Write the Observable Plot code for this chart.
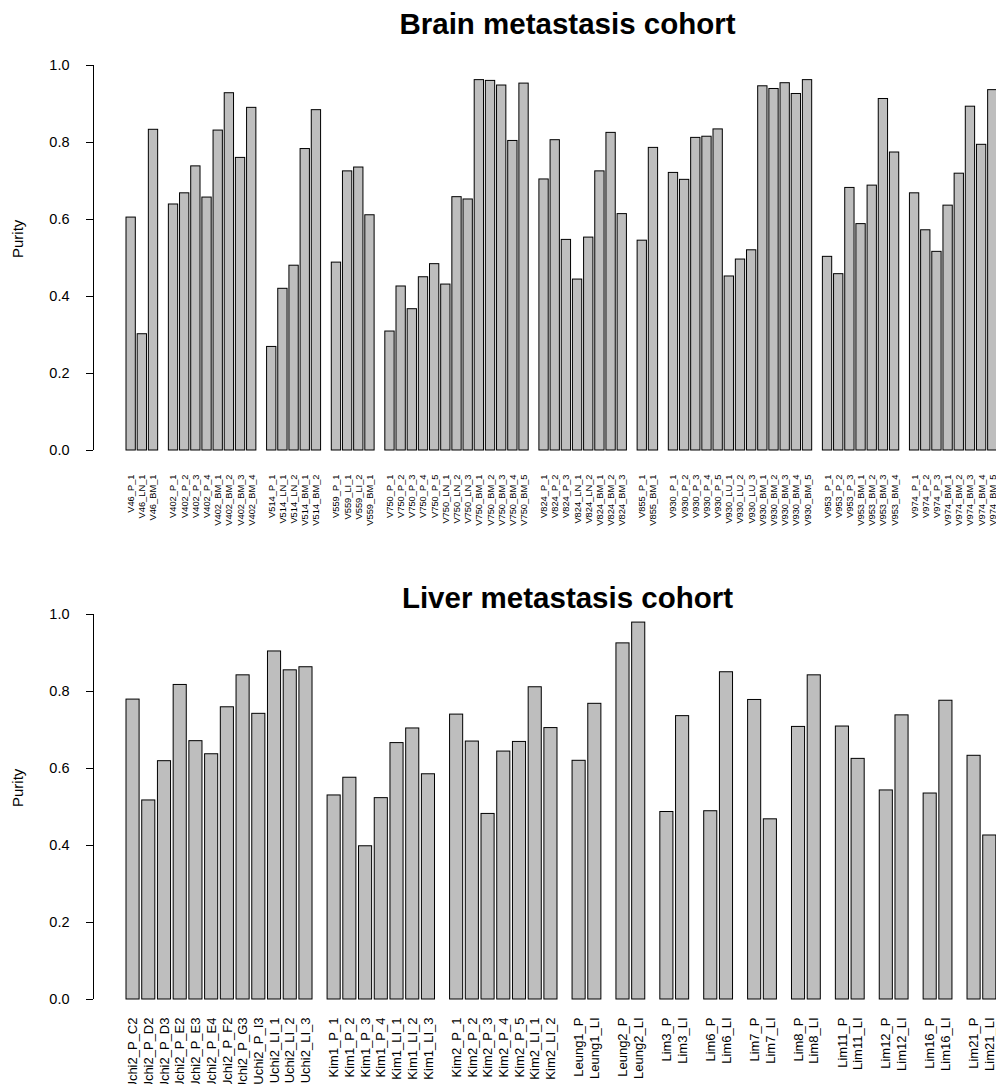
<!DOCTYPE html>
<html>
<head>
<meta charset="utf-8">
<script src="https://cdn.jsdelivr.net/npm/d3@7"></script>
<script src="https://cdn.jsdelivr.net/npm/@observablehq/plot@0.6"></script>
<style>
  html, body { margin: 0; padding: 0; background: #fff; overflow: hidden; }
  #chart svg { display: block; overflow: hidden; }
</style>
</head>
<body>
<div id="chart"></div>
<script>
// Tumour purity per sample, grouped by patient
const brainSamples = [
  "V46_P_1", "V46_LN_1", "V46_BM_1",
  "V402_P_1", "V402_P_2", "V402_P_3", "V402_P_4", "V402_BM_1", "V402_BM_2", "V402_BM_3", "V402_BM_4",
  "V514_P_1", "V514_LN_1", "V514_LN_2", "V514_BM_1", "V514_BM_2",
  "V559_P_1", "V559_LI_1", "V559_LI_2", "V559_BM_1",
  "V750_P_1", "V750_P_2", "V750_P_3", "V750_P_4", "V750_P_5", "V750_LN_1", "V750_LN_2", "V750_LN_3",
  "V750_BM_1", "V750_BM_2", "V750_BM_3", "V750_BM_4", "V750_BM_5",
  "V824_P_1", "V824_P_2", "V824_P_3", "V824_LN_1", "V824_LN_2", "V824_BM_1", "V824_BM_2", "V824_BM_3",
  "V855_P_1", "V855_BM_1",
  "V930_P_1", "V930_P_2", "V930_P_3", "V930_P_4", "V930_P_5", "V930_LU_1", "V930_LU_2", "V930_LU_3",
  "V930_BM_1", "V930_BM_2", "V930_BM_3", "V930_BM_4", "V930_BM_5",
  "V953_P_1", "V953_P_2", "V953_P_3", "V953_BM_1", "V953_BM_2", "V953_BM_3", "V953_BM_4",
  "V974_P_1", "V974_P_2", "V974_P_3", "V974_BM_1", "V974_BM_2", "V974_BM_3", "V974_BM_4", "V974_BM_5"
];
const brainPurity = [
  0.605, 0.302, 0.833,
  0.639, 0.668, 0.738, 0.657, 0.831, 0.928, 0.760, 0.890,
  0.269, 0.420, 0.480, 0.783, 0.884,
  0.488, 0.725, 0.735, 0.611,
  0.309, 0.426, 0.367, 0.450, 0.484, 0.431, 0.658, 0.652,
  0.962, 0.960, 0.948, 0.804, 0.953,
  0.704, 0.806, 0.547, 0.444, 0.553, 0.725, 0.825, 0.614,
  0.545, 0.786,
  0.721, 0.703, 0.812, 0.815, 0.834, 0.452, 0.496, 0.520,
  0.946, 0.939, 0.954, 0.926, 0.962,
  0.503, 0.458, 0.682, 0.588, 0.688, 0.913, 0.774,
  0.668, 0.572, 0.516, 0.636, 0.719, 0.893, 0.794, 0.936
];

const liverSamples = [
  "Uchi2_P_C2", "Uchi2_P_D2", "Uchi2_P_D3", "Uchi2_P_E2", "Uchi2_P_E3", "Uchi2_P_E4",
  "Uchi2_P_F2", "Uchi2_P_G3", "Uchi2_P_I3", "Uchi2_LI_1", "Uchi2_LI_2", "Uchi2_LI_3",
  "Kim1_P_1", "Kim1_P_2", "Kim1_P_3", "Kim1_P_4", "Kim1_LI_1", "Kim1_LI_2", "Kim1_LI_3",
  "Kim2_P_1", "Kim2_P_2", "Kim2_P_3", "Kim2_P_4", "Kim2_P_5", "Kim2_LI_1", "Kim2_LI_2",
  "Leung1_P", "Leung1_LI", "Leung2_P", "Leung2_LI",
  "Lim3_P", "Lim3_LI", "Lim6_P", "Lim6_LI", "Lim7_P", "Lim7_LI", "Lim8_P", "Lim8_LI",
  "Lim11_P", "Lim11_LI", "Lim12_P", "Lim12_LI", "Lim16_P", "Lim16_LI", "Lim21_P", "Lim21_LI"
];
const liverPurity = [
  0.779, 0.517, 0.619, 0.817, 0.671, 0.637,
  0.759, 0.842, 0.742, 0.904, 0.855, 0.863,
  0.530, 0.576, 0.398, 0.523, 0.666, 0.704, 0.585,
  0.740, 0.670, 0.482, 0.644, 0.669, 0.811, 0.705,
  0.620, 0.768, 0.925, 0.979,
  0.487, 0.736, 0.489, 0.850, 0.778, 0.468, 0.708, 0.842,
  0.709, 0.625, 0.543, 0.738, 0.535, 0.776, 0.633, 0.426
];

const yTicks = [0, 0.2, 0.4, 0.6, 0.8, 1.0];
const yLabel = "Purity";
const titles = ["Brain metastasis cohort", "Liver metastasis cohort"];

const FONT = "'Liberation Sans', Arial, Helvetica, sans-serif";

// Bars of one patient sit 1.2 bar-widths apart; a wider gap separates patients.
function layoutBars(samples, values) {
  let left = 0;
  return samples.map((name, i) => {
    const patient = name.split("_")[0];
    if (i > 0) left += patient === samples[i - 1].split("_")[0] ? 1.2 : 2.15;
    return {name, patient, value: values[i], x1: left, x2: left + 1, xc: left + 0.5};
  });
}

function panel({samples, values, title, barPx, height, marginTop, plotHeight, labelGap, labelSize, titleDy}) {
  const bars = layoutBars(samples, values);
  const width = 996, marginLeft = 93, firstBarPx = 126;
  const xDomain = [-(firstBarPx - marginLeft) / barPx, (width - firstBarPx) / barPx];
  return Plot.plot({
    width, height,
    marginLeft, marginRight: 0, marginTop,
    marginBottom: height - marginTop - plotHeight,
    style: {fontFamily: FONT, color: "#000", background: "#fff", overflow: "hidden"},
    x: {domain: xDomain, axis: null},
    y: {domain: [0, 1], axis: null},
    marks: [
      Plot.rect(bars, {x1: "x1", x2: "x2", y1: 0, y2: "value", fill: "#bebebe", stroke: "#000", strokeWidth: 1}),
      Plot.ruleX([xDomain[0]], {y1: 0, y2: 1, stroke: "#000", strokeWidth: 1}),
      Plot.axisY({ticks: yTicks, tickFormat: d3.format(".1f"), tickSize: 7, tickPadding: 17,
        fontSize: 14.5, label: null, stroke: "#000"}),
      Plot.text([yLabel], {frameAnchor: "left", rotate: -90, dx: -75, fontSize: 15, fill: "#000"}),
      Plot.text(bars, {x: "xc", y: 0, text: "name", rotate: -90, textAnchor: "end", lineAnchor: "middle",
        dy: labelGap, fontSize: labelSize, fill: "#000"}),
      Plot.text([title], {frameAnchor: "top-left", dx: 474, dy: titleDy, textAnchor: "middle",
        lineAnchor: "middle", fontSize: 29.5, fontWeight: "bold", fill: "#000"})
    ]
  });
}

const root = document.getElementById("chart");
root.appendChild(panel({
  samples: brainSamples, values: brainPurity, title: titles[0],
  barPx: 9.31, height: 560, marginTop: 65, plotHeight: 385,
  labelGap: 24, labelSize: 9.3, titleDy: -41
}));
root.appendChild(panel({
  samples: liverSamples, values: liverPurity, title: titles[1],
  barPx: 13.1, height: 560, marginTop: 54, plotHeight: 385,
  labelGap: 18, labelSize: 13, titleDy: -16
}));
</script>
</body>
</html>
